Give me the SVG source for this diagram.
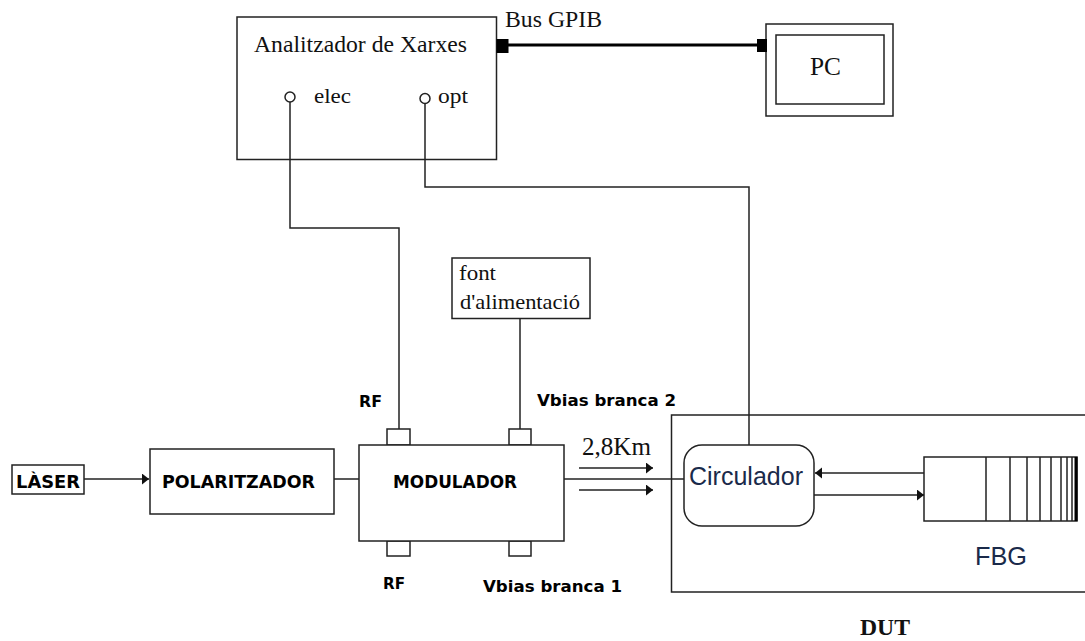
<svg xmlns="http://www.w3.org/2000/svg" width="1085" height="641" viewBox="0 0 1085 641">
<style>
.b{fill:#fff;stroke:#222;stroke-width:1.5}
.l{fill:none;stroke:#222;stroke-width:1.5}
.s{font-family:"Liberation Serif",serif;fill:#111}
.v{font-family:"DejaVu Sans",sans-serif;font-weight:bold;fill:#000}
.a{font-family:"Liberation Sans",sans-serif;fill:#1a2a4a}
</style>
<defs>
<marker id="ah" markerUnits="userSpaceOnUse" markerWidth="8" markerHeight="12" refX="7" refY="5.500" orient="auto"><path d="M0 0L7 5.500L0 11Z" fill="#111"/></marker>
</defs>
<rect width="1085" height="641" fill="#fff"/>
<g id="analitzador">
<rect class="b" x="237" y="17" width="259.500" height="142.500"/>
<text class="s" x="254" y="52" font-size="23" textLength="213" lengthAdjust="spacingAndGlyphs">Analitzador de Xarxes</text>
<circle class="b" cx="290" cy="97" r="5"/>
<text class="s" x="314" y="103" font-size="22" textLength="37" lengthAdjust="spacingAndGlyphs">elec</text>
<circle class="b" cx="425" cy="98.500" r="5"/>
<text class="s" x="438" y="103" font-size="22" textLength="30" lengthAdjust="spacingAndGlyphs">opt</text>
<rect x="496.500" y="39" width="12" height="14" fill="#000"/>
</g>
<text class="s" x="505" y="27" font-size="23" textLength="97" lengthAdjust="spacingAndGlyphs">Bus GPIB</text>
<g id="pc">
<rect class="b" x="766" y="24" width="127" height="92"/>
<rect class="b" x="776" y="35" width="108" height="69"/>
<rect x="757" y="39" width="10" height="13" fill="#000"/>
<text class="s" x="810" y="75" font-size="26" textLength="31" lengthAdjust="spacingAndGlyphs">PC</text>
</g>
<g id="font">
<rect class="b" x="452" y="258" width="138" height="60.500"/>
<text class="s" x="459" y="280" font-size="22" textLength="37" lengthAdjust="spacingAndGlyphs">font</text>
<text class="s" x="460" y="309" font-size="22" textLength="120" lengthAdjust="spacingAndGlyphs">d'alimentació</text>
</g>
<g id="laser">
<rect class="b" x="12" y="465" width="72" height="29"/>
<text class="v" x="16" y="488" font-size="17" textLength="64" lengthAdjust="spacingAndGlyphs">LÀSER</text>
</g>
<g id="polaritzador">
<rect class="b" x="150" y="449" width="184" height="65"/>
<text class="v" x="162" y="488" font-size="17" textLength="153" lengthAdjust="spacingAndGlyphs">POLARITZADOR</text>
</g>
<g id="modulador">
<rect class="b" x="387" y="429" width="23" height="16"/>
<rect class="b" x="509" y="429" width="22" height="16"/>
<rect class="b" x="387" y="541" width="23" height="15"/>
<rect class="b" x="509" y="541" width="22" height="15"/>
<rect class="b" x="359" y="445" width="205" height="96"/>
<text class="v" x="393" y="488" font-size="17" textLength="124" lengthAdjust="spacingAndGlyphs">MODULADOR</text>
</g>
<text class="v" x="359" y="407" font-size="16" textLength="23" lengthAdjust="spacingAndGlyphs">RF</text>
<text class="v" x="383" y="589" font-size="16" textLength="22" lengthAdjust="spacingAndGlyphs">RF</text>
<text class="v" x="537" y="406" font-size="16" textLength="139" lengthAdjust="spacingAndGlyphs">Vbias branca 2</text>
<text class="v" x="483" y="592" font-size="16" textLength="139" lengthAdjust="spacingAndGlyphs">Vbias branca 1</text>
<text class="s" x="582" y="455" font-size="26" textLength="69" lengthAdjust="spacingAndGlyphs">2,8Km</text>
<g id="dut">
<path class="l" d="M1085 415H671.500V592H1085"/>
<text class="s" x="860" y="635" font-size="23" font-weight="bold" textLength="50" lengthAdjust="spacingAndGlyphs">DUT</text>
</g>
<g id="circulador">
<rect class="b" x="684" y="445" width="130" height="81" rx="18"/>
<text class="a" x="689" y="485" font-size="26" textLength="114" lengthAdjust="spacingAndGlyphs">Circulador</text>
</g>
<g id="fbg">
<rect class="b" x="924" y="457" width="153" height="64"/>
<path class="l" d="M986 457V521M1010 457V521M1027 457V521M1040 457V521M1051 457V521M1061 457V521M1067 457V521M1072 457V521"/>
<path fill="none" stroke="#000" stroke-width="3" d="M1076 457V521"/>
<text class="a" x="975" y="565" font-size="26" textLength="52" lengthAdjust="spacingAndGlyphs">FBG</text>
</g>
<g id="connectors">
<path class="l" d="M290 102V228H399V429"/>
<path class="l" d="M425 103.500V187H749V445"/>
<path class="l" d="M520 318.500V429"/>
<path fill="none" stroke="#000" stroke-width="3" d="M508 45H757"/>
<path class="l" d="M84 479H149" marker-end="url(#ah)"/>
<path class="l" d="M334 479H359"/>
<path class="l" d="M564 479H684"/>
<path class="l" d="M579 468H653" marker-end="url(#ah)"/>
<path class="l" d="M579 490H653" marker-end="url(#ah)"/>
<path class="l" d="M924 473H815" marker-end="url(#ah)"/>
<path class="l" d="M814 495H924" marker-end="url(#ah)"/>
</g>
</svg>
